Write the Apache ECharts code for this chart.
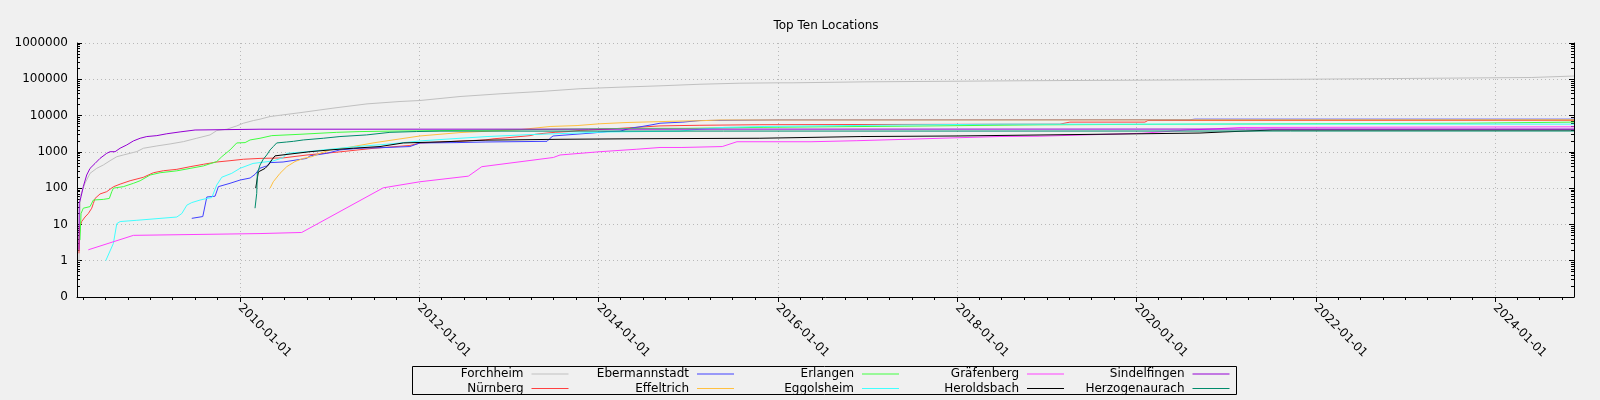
<!DOCTYPE html>
<html><head><meta charset="utf-8">
<script src="https://cdn.jsdelivr.net/npm/echarts@6/dist/echarts.min.js"></script>
<style>html,body{margin:0;padding:0;background:#f0f0f0}#c{width:1600px;height:400px}</style>
</head><body><div id="c"></div>
<script>
// ---- data: [decimal year, cumulative count] ----
const seriesNames = ['Forchheim','Nürnberg','Ebermannstadt','Effeltrich','Erlangen','Eggolsheim','Gräfenberg','Heroldsbach','Sindelfingen','Herzogenaurach'];
const seriesColors = ['#c0c0c0','#ff4040','#4040ff','#ffc040','#40ff40','#40ffff','#ff40ff','#000000','#9400d3','#008b6b'];

const forchheim = [[2008.204,1],[2008.219,60],[2008.271,136],[2008.327,256],[2008.402,352],[2008.475,434],[2008.550,571],[2008.625,736],[2008.698,820],[2008.773,914],[2008.848,1015],[2008.921,1256],[2009.071,1455],[2009.219,1652],[2009.368,1914],[2009.517,2375],[2009.665,2930],[2009.740,3855],[2009.852,4210],[2009.963,5190],[2010.037,6160],[2010.148,7280],[2010.223,7950],[2010.335,9400],[2010.669,12000],[2011.037,16000],[2011.417,21000],[2011.785,24400],[2012.008,26000],[2012.454,33500],[2012.900,39800],[2013.346,46000],[2013.793,55000],[2014.239,60600],[2014.685,66000],[2015.131,73000],[2015.577,78000],[2016.023,80000],[2016.170,80000],[2016.180,85000],[2016.970,85000],[2016.983,91000],[2018.700,91000],[2018.712,96000],[2020.520,96000],[2020.530,100000],[2021.780,100000],[2021.790,105000],[2022.905,105000],[2022.917,112000],[2024.410,112000],[2024.423,123000],[2024.880,123000]];
const nurnberg = [[2008.204,1.6],[2008.207,4.5],[2008.215,8.6],[2008.234,12],[2008.271,16],[2008.308,20],[2008.346,28],[2008.364,38],[2008.383,52],[2008.438,69],[2008.513,80],[2008.587,109],[2008.662,129],[2008.773,160],[2008.921,199],[2009.033,266],[2009.144,302],[2009.294,330],[2009.442,390],[2009.591,454],[2009.740,525],[2009.888,571],[2010.037,625],[2010.223,660],[2010.480,680],[2010.747,820],[2011.115,1000],[2011.484,1250],[2011.896,1500],[2012.008,1750],[2012.420,1960],[2012.733,2130],[2012.833,2300],[2012.956,2420],[2013.123,2640],[2013.235,2800],[2013.291,3040],[2013.380,3220],[2013.514,3460],[2013.647,3600],[2013.793,3900],[2013.982,4100],[2014.239,4450],[2014.685,5190],[2014.908,5300],[2015.131,5400],[2015.800,5600],[2019.146,5800],[2019.258,6600],[2020.095,6600],[2020.128,7300],[2024.880,7400]];
const ebermannstadt = [[2009.461,14.7],[2009.584,16.5],[2009.629,57],[2009.721,60],[2009.758,110],[2009.888,136],[2010.000,167],[2010.112,190],[2010.167,240],[2010.223,355],[2010.298,410],[2010.335,505],[2010.480,525],[2010.744,660],[2010.781,775],[2010.967,910],[2011.115,1130],[2011.338,1260],[2011.562,1300],[2011.896,1400],[2012.008,1760],[2012.420,1800],[2012.733,1870],[2013.424,1950],[2013.458,2370],[2013.491,2740],[2013.647,2930],[2013.937,3320],[2014.094,3620],[2014.239,3700],[2014.350,4470],[2014.484,5000],[2014.607,5640],[2014.685,6150],[2014.941,6600],[2015.131,7300],[2016.023,7600],[2020.597,7700],[2020.652,7950],[2024.880,7950]];
const effeltrich = [[2010.335,100],[2010.371,150],[2010.446,256],[2010.521,390],[2010.613,540],[2010.706,660],[2010.800,736],[2010.892,910],[2011.004,1130],[2011.227,1350],[2011.484,1760],[2011.707,2130],[2012.008,2740],[2012.454,3400],[2012.755,3700],[2013.123,4100],[2013.458,5000],[2013.759,5300],[2014.016,5950],[2014.317,6440],[2014.573,6700],[2014.908,7050],[2015.131,7200],[2015.354,7550],[2024.880,7650]];
const erlangen = [[2008.215,3.7],[2008.227,20],[2008.252,28],[2008.327,31],[2008.364,47],[2008.475,49],[2008.542,52],[2008.569,80],[2008.587,100],[2008.698,110],[2008.810,136],[2008.885,160],[2008.996,230],[2009.108,266],[2009.294,300],[2009.442,350],[2009.591,410],[2009.740,540],[2009.796,736],[2009.888,1130],[2009.963,1760],[2010.056,1800],[2010.112,2130],[2010.223,2370],[2010.354,2800],[2010.669,3050],[2011.079,3450],[2011.338,3620],[2011.673,3730],[2012.231,3850],[2012.900,4000],[2013.569,4220],[2014.462,4450],[2014.975,4450],[2014.986,4740],[2015.845,4740],[2015.856,5100],[2017.407,5100],[2017.418,5440],[2018.957,5560],[2020.586,5800],[2020.597,6150],[2023.686,6150],[2023.697,6600],[2024.880,6600]];
const eggolsheim = [[2008.502,1],[2008.587,3],[2008.625,10.5],[2008.662,12],[2008.848,13],[2009.294,16],[2009.350,20],[2009.406,34],[2009.461,40],[2009.554,47],[2009.629,52],[2009.684,55],[2009.740,122],[2009.796,200],[2009.907,256],[2010.000,352],[2010.145,480],[2010.368,560],[2010.480,690],[2010.521,910],[2010.744,1010],[2010.926,1130],[2011.302,1400],[2011.673,1650],[2012.041,2030],[2012.376,2300],[2012.755,2640],[2013.235,2990],[2013.681,3250],[2014.094,3530],[2014.908,3730],[2015.131,4220],[2015.410,4740],[2015.856,5000],[2017.362,5500],[2018.477,5800],[2024.880,5800]];
const grafenberg = [[2008.308,2],[2008.810,5],[2010.223,5.6],[2010.688,6],[2011.598,102],[2012.008,150],[2012.547,214],[2012.696,390],[2013.495,700],[2013.569,820],[2014.016,1010],[2014.425,1180],[2014.685,1320],[2014.930,1320],[2014.941,1400],[2015.380,1400],[2015.544,1900],[2016.370,1900],[2016.380,2030],[2016.880,2030],[2016.893,2220],[2017.430,2220],[2017.440,2480],[2018.477,2650],[2018.923,2700],[2020.061,3250],[2020.563,4000],[2020.897,4330],[2021.154,4700],[2024.880,4900]];
const heroldsbach = [[2010.175,100],[2010.204,280],[2010.223,316],[2010.279,350],[2010.316,434],[2010.354,600],[2010.390,775],[2010.558,870],[2010.781,1010],[2011.004,1130],[2011.264,1260],[2011.562,1400],[2011.822,1760],[2012.231,1880],[2012.733,2100],[2013.569,2220],[2014.462,2300],[2015.800,2370],[2016.916,2640],[2017.998,2740],[2020.005,3140],[2020.708,3300],[2020.964,3530],[2021.522,4000],[2024.880,4000]];
const sindelfingen = [[2008.204,2],[2008.207,38],[2008.227,58],[2008.252,110],[2008.290,230],[2008.327,350],[2008.383,480],[2008.438,660],[2008.513,910],[2008.550,1010],[2008.606,1010],[2008.662,1260],[2008.736,1550],[2008.810,2000],[2008.885,2370],[2008.959,2640],[2009.071,2800],[2009.182,3150],[2009.331,3550],[2009.498,4000],[2010.223,4210],[2024.880,4250]];
const herzogenaurach = [[2010.167,28],[2010.186,72],[2010.193,256],[2010.223,434],[2010.260,630],[2010.298,820],[2010.335,1130],[2010.371,1400],[2010.409,1760],[2010.521,1870],[2010.595,1950],[2010.706,2130],[2010.929,2370],[2011.115,2640],[2011.413,2930],[2011.673,3450],[2011.971,3630],[2012.231,3730],[2024.880,3750]];

const seriesData = [forchheim, nurnberg, ebermannstadt, effeltrich, erlangen, eggolsheim, grafenberg, heroldsbach, sindelfingen, herzogenaurach];

// axis ranges and ticks
const xMinYear = 2008.182, xMaxYear = 2024.880;
const xLabelYears = [2010, 2012, 2014, 2016, 2018, 2020, 2022, 2024];
const yMajorTicks = [0.1, 1, 10, 100, 1000, 10000, 100000, 1000000];
const yMin = 0.1, yMax = 1000000;

function ts(y) {
  const Y = Math.floor(y);
  const a = Date.UTC(Y, 0, 1), b = Date.UTC(Y + 1, 0, 1);
  return a + (y - Y) * (b - a);
}
const quarterTicks = [];
for (let y = 2008; y <= 2024; y++) for (let m = 0; m < 12; m += 3) {
  const t = Date.UTC(y, m, 1);
  if (t >= ts(xMinYear) && t <= ts(xMaxYear)) quarterTicks.push(t);
}
const yMinorTicks = [];
for (let e = -1; e < 6; e++) for (let m = 2; m <= 9; m++) yMinorTicks.push(+(m * Math.pow(10, e)).toPrecision(3));

const FONT = 'DejaVu Sans';
const chart = echarts.init(document.getElementById('c'), null, {renderer: 'canvas'});

const legendRight = [568.5, 734, 899, 1064, 1229.5];
const legendTop = [368, 382.5];

const gridLine = {show: true, lineStyle: {color: '#b8b8b8', type: [1, 3], width: 1}};
const blackLine = {show: true, lineStyle: {color: '#000', width: 1}};

const option = {
  backgroundColor: '#f0f0f0',
  animation: false,
  title: {
    text: 'Top Ten Locations', left: 821, top: 15, textAlign: 'center',
    textStyle: {fontFamily: FONT, fontSize: 12, fontWeight: 'normal', color: '#000'}
  },
  grid: {left: 77, right: 26, top: 43, bottom: 103, containLabel: false},
  xAxis: [
    {
      type: 'value', min: ts(xMinYear), max: ts(xMaxYear), position: 'bottom',
      axisLine: {show: true, onZero: false, lineStyle: {color: '#000', width: 1}},
      axisTick: {show: true, inside: false, length: 3, customValues: quarterTicks, lineStyle: {color: '#000'}},
      axisLabel: {show: false},
      splitLine: {show: false}
    },
    {
      type: 'value', min: ts(xMinYear), max: ts(xMaxYear), position: 'bottom',
      axisLine: {show: false, onZero: false},
      axisTick: {show: true, inside: false, length: 5, customValues: xLabelYears.map(y => Date.UTC(y, 0, 1)), lineStyle: {color: '#000'}},
      axisLabel: {
        show: true, rotate: -45, margin: 9, customValues: xLabelYears.map(y => Date.UTC(y, 0, 1)),
        fontFamily: FONT, fontSize: 12, color: '#000',
        formatter: v => new Date(v).toISOString().slice(0, 10)
      },
      splitLine: gridLine
    }
  ],
  yAxis: [
    {
      type: 'log', logBase: 10, min: yMin, max: yMax, position: 'left',
      axisLine: blackLine,
      axisTick: {show: true, inside: true, length: 5, customValues: yMajorTicks, lineStyle: {color: '#000'}},
      axisLabel: {
        show: true, customValues: yMajorTicks, margin: 9, fontFamily: FONT, fontSize: 12, color: '#000',
        formatter: v => (v < 1 ? '0' : String(Math.round(v)))
      },
      splitLine: gridLine
    },
    {
      type: 'log', logBase: 10, min: yMin, max: yMax, position: 'left',
      axisLine: {show: false},
      axisTick: {show: true, inside: true, length: 3, customValues: yMinorTicks, lineStyle: {color: '#000'}},
      axisLabel: {show: false}, splitLine: {show: false}
    },
    {
      type: 'log', logBase: 10, min: yMin, max: yMax, position: 'right',
      axisLine: blackLine,
      axisTick: {show: true, inside: true, length: 5, customValues: yMajorTicks, lineStyle: {color: '#000'}},
      axisLabel: {show: false}, splitLine: {show: false}
    },
    {
      type: 'log', logBase: 10, min: yMin, max: yMax, position: 'right',
      axisLine: {show: false},
      axisTick: {show: true, inside: true, length: 3, customValues: yMinorTicks, lineStyle: {color: '#000'}},
      axisLabel: {show: false}, splitLine: {show: false}
    }
  ],
  legend: seriesNames.map((n, k) => ({
    data: [{name: n, icon: 'rect', itemStyle: {color: seriesColors[k], borderWidth: 0}}],
    orient: 'horizontal', align: 'right',
    right: 1600 - legendRight[Math.floor(k / 2)], top: legendTop[k % 2],
    itemWidth: 37, itemHeight: 1, itemGap: 0, padding: 0, selectedMode: false,
    textStyle: {fontFamily: FONT, fontSize: 12, color: '#000', padding: [0, 3, 0, 0]}
  })),
  graphic: [{
    type: 'rect', silent: true,
    shape: {x: 412.5, y: 366.5, width: 824, height: 28},
    style: {fill: 'none', stroke: '#000', lineWidth: 1}
  }],
  series: seriesNames.map((n, k) => ({
    name: n, type: 'line', xAxisIndex: 0, yAxisIndex: 0,
    symbol: 'none', showSymbol: false, silent: true,
    lineStyle: {width: 1, color: seriesColors[k]},
    itemStyle: {color: seriesColors[k]},
    emphasis: {disabled: true},
    data: seriesData[k].map(p => [ts(p[0]), p[1]])
  }))
};
chart.setOption(option);
</script>
</body></html>
